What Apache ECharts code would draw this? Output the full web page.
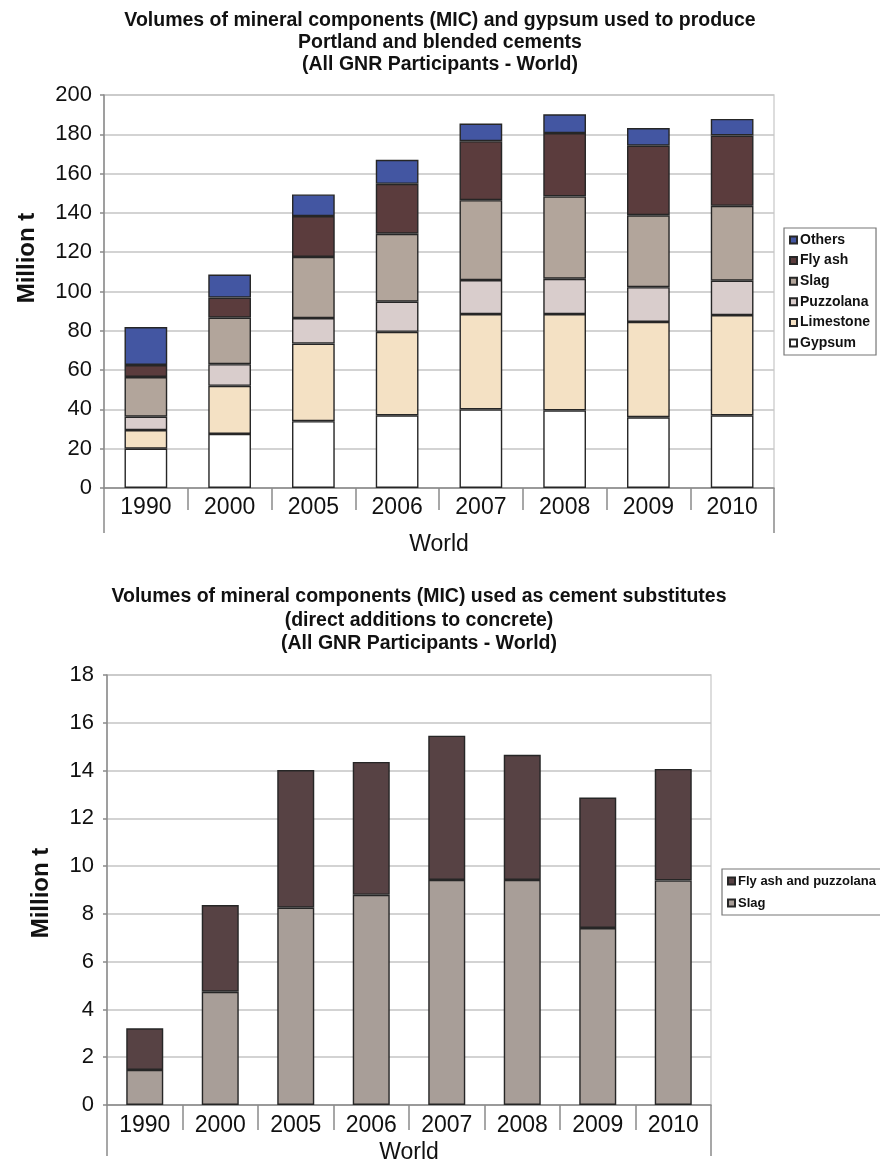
<!DOCTYPE html>
<html>
<head>
<meta charset="utf-8">
<script src="https://cdn.jsdelivr.net/npm/echarts@6/dist/echarts.min.js"></script>
<style>
  html, body { margin: 0; padding: 0; background: #ffffff; }
  #chart { width: 880px; height: 1164px; }
</style>
</head>
<body>
<div id="chart"></div>
<script>
// Category labels shared by both panels
const years = ['1990', '2000', '2005', '2006', '2007', '2008', '2009', '2010'];
const regionLabel = ['World'];

// Panel 1: MIC and gypsum in Portland and blended cements (million t)
const gypsum    = [20, 27.5, 34, 37, 40, 39.5, 36, 37];
const limestone = [9.5, 24.5, 39.5, 42.5, 48.5, 49, 48.5, 51];
const puzzolana = [6.8, 11, 13, 15.3, 17.3, 18, 17.7, 17.5];
const slag      = [20.2, 23.7, 31.1, 34.6, 40.7, 41.9, 36.6, 38.1];
const flyAsh    = [6.1, 10.2, 20.8, 25.4, 30, 32.2, 35.4, 35.8];
const others    = [19.3, 11.7, 11, 12.2, 9, 9.6, 9, 8.4];

// Panel 2: MIC used as direct additions to concrete (million t)
const subSlag          = [1.47, 4.74, 8.26, 8.8, 9.42, 9.42, 7.41, 9.4];
const subFlyAshPuzzola = [1.74, 3.63, 5.76, 5.56, 6.04, 5.24, 5.46, 4.67];

// Axis tick settings
const topAxis = { min: 0, max: 200, interval: 20 };
const bottomAxis = { min: 0, max: 18, interval: 2 };

const FONT = '"Liberation Sans", Arial, sans-serif';
const EDGE = '#262626';

const chart = echarts.init(document.getElementById('chart'), null, { renderer: 'canvas' });

function valueAxis(gridIndex, range, labelMargin) {
  return {
    type: 'value', gridIndex,
    min: range.min, max: range.max, interval: range.interval,
    axisLine: { show: true, lineStyle: { color: '#8a8a8a', width: 1.5 } },
    axisTick: { show: true, length: 4, lineStyle: { color: '#8a8a8a', width: 1.5 } },
    axisLabel: { color: '#111', fontSize: 22, fontFamily: FONT, margin: labelMargin },
    splitLine: { show: true, lineStyle: { color: '#c4c4c4', width: 1.5 } }
  };
}

function yearAxis(gridIndex, tickLen, labelMargin) {
  return {
    type: 'category', gridIndex, data: years, position: 'bottom',
    axisLine: { show: true, lineStyle: { color: '#8a8a8a', width: 1.5 } },
    axisTick: { show: true, interval: 0, length: tickLen, lineStyle: { color: '#8a8a8a', width: 1.5 } },
    axisLabel: { color: '#111', fontSize: 23, fontFamily: FONT, margin: labelMargin, interval: 0 },
    splitLine: { show: false }
  };
}

function regionAxis(gridIndex, tickLen, labelMargin) {
  return {
    type: 'category', gridIndex, data: regionLabel, position: 'bottom',
    axisLine: { show: false },
    axisTick: { show: true, interval: 0, length: tickLen, lineStyle: { color: '#8a8a8a', width: 1.5 } },
    axisLabel: { color: '#111', fontSize: 23, fontFamily: FONT, margin: labelMargin },
    splitLine: { show: false }
  };
}

function stackBar(name, data, color, stack, xi, yi, width) {
  return {
    name, type: 'bar', stack, data,
    xAxisIndex: xi, yAxisIndex: yi,
    barWidth: width,
    itemStyle: { color, borderColor: EDGE, borderWidth: 1.4 },
    emphasis: { disabled: true },
    animation: false
  };
}

const titleStyle = { fontSize: 19.5, fontWeight: 'bold', color: '#111', fontFamily: FONT, lineHeight: 22 };

const option = {
  backgroundColor: '#ffffff',
  animation: false,
  title: [
    {
      text: 'Volumes of mineral components (MIC) and gypsum used to produce\nPortland and blended cements\n(All GNR Participants - World)',
      left: 440, top: 10, textAlign: 'center', textStyle: titleStyle, padding: 0
    },
    {
      text: 'Volumes of mineral components (MIC) used as cement substitutes\n(direct additions to concrete)\n(All GNR Participants - World)',
      left: 419, top: 585, textAlign: 'center',
      textStyle: Object.assign({}, titleStyle, { lineHeight: 23.5 }), padding: 0
    }
  ],
  grid: [
    { left: 104, top: 95, width: 670, height: 393, show: true, borderColor: '#d2d2d2', borderWidth: 1.5, backgroundColor: '#ffffff' },
    { left: 107, top: 675, width: 604, height: 432, show: true, borderColor: '#d2d2d2', borderWidth: 1.5, backgroundColor: '#ffffff' }
  ],
  xAxis: [
    yearAxis(0, 22, 8),
    regionAxis(0, 45, 45),
    yearAxis(1, 25, 9),
    regionAxis(1, 51, 36)
  ],
  yAxis: [
    valueAxis(0, topAxis, 12),
    valueAxis(1, bottomAxis, 13)
  ],
  legend: [
    {
      orient: 'vertical', left: 784, top: 228,
      data: ['Others', 'Fly ash', 'Slag', 'Puzzolana', 'Limestone', 'Gypsum'],
      icon: 'rect', itemWidth: 7, itemHeight: 7, itemGap: 6.6,
      padding: [5, 6, 5, 5],
      borderColor: '#777', borderWidth: 1.2,
      textStyle: { fontSize: 14, fontWeight: 'bold', color: '#111', fontFamily: FONT, lineHeight: 14, padding: [0, 0, 0, -2] },
      selectedMode: false
    },
    {
      orient: 'vertical', left: 722, top: 869,
      data: ['Fly ash and puzzolana', 'Slag '],
      icon: 'rect', itemWidth: 7, itemHeight: 7, itemGap: 8,
      padding: [5, 6, 5, 5],
      borderColor: '#777', borderWidth: 1.2,
      textStyle: { fontSize: 13, fontWeight: 'bold', color: '#111', fontFamily: FONT, lineHeight: 14, padding: [0, 0, 0, -2] },
      selectedMode: false
    }
  ],
  graphic: [
    {
      type: 'text', x: 27, y: 258, rotation: Math.PI / 2,
      style: { text: 'Million t', font: 'bold 24px ' + FONT, fill: '#111', align: 'center', verticalAlign: 'middle' }
    },
    {
      type: 'text', x: 41, y: 893, rotation: Math.PI / 2,
      style: { text: 'Million t', font: 'bold 24px ' + FONT, fill: '#111', align: 'center', verticalAlign: 'middle' }
    }
  ],
  series: [
    stackBar('Gypsum', gypsum, '#ffffff', 'cem', 0, 0, '51%'),
    stackBar('Limestone', limestone, '#f4e1c4', 'cem', 0, 0, '51%'),
    stackBar('Puzzolana', puzzolana, '#d9cdcc', 'cem', 0, 0, '51%'),
    stackBar('Slag', slag, '#b2a59b', 'cem', 0, 0, '51%'),
    stackBar('Fly ash', flyAsh, '#5b3c3d', 'cem', 0, 0, '51%'),
    stackBar('Others', others, '#4356a2', 'cem', 0, 0, '51%'),
    stackBar('Slag ', subSlag, '#a89e98', 'sub', 2, 1, '49%'),
    stackBar('Fly ash and puzzolana', subFlyAshPuzzola, '#574244', 'sub', 2, 1, '49%')
  ]
};

chart.setOption(option);
</script>
</body>
</html>
